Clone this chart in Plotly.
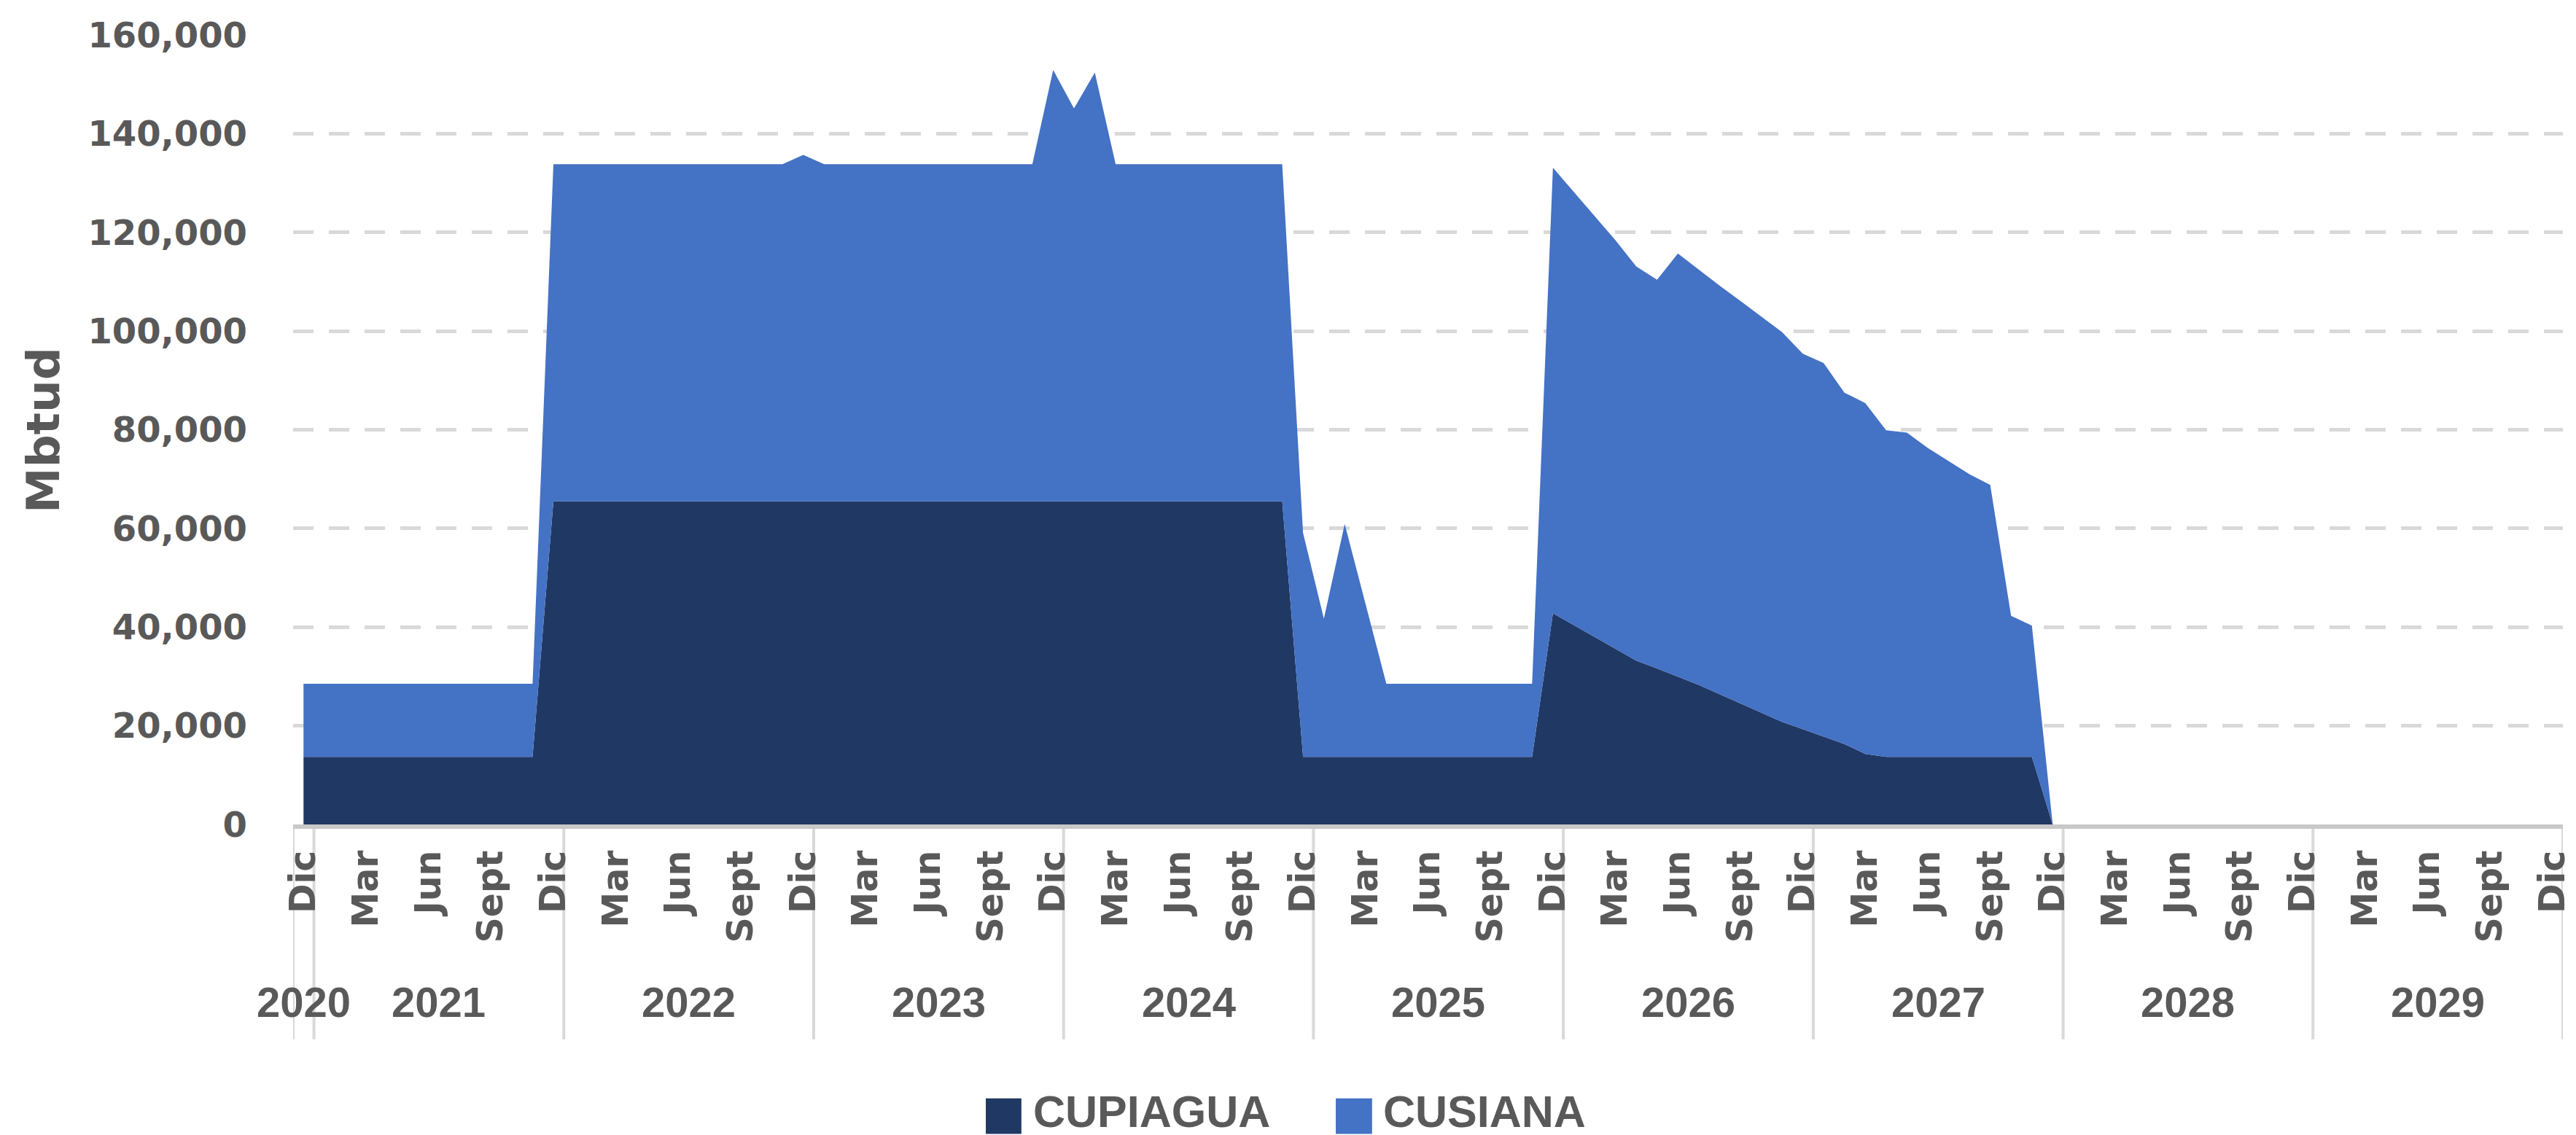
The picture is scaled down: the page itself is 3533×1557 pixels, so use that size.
import plotly.graph_objects as go

# ---------------- data ----------------
month_abbr = ["Ene", "Feb", "Mar", "Abr", "May", "Jun", "Jul", "Ago", "Sept", "Oct", "Nov", "Dic"]
years = [2020, 2021, 2022, 2023, 2024, 2025, 2026, 2027, 2028, 2029]

# category list: Dic 2020 .. Dic 2029 (monthly)
categories = [("Dic", 2020)] + [(m, y) for y in years[1:] for m in month_abbr]

# values (Mbtud), Dic 2020 .. Dic 2027
cupiagua = (
    [13700] * 12                      # Dic 2020 - Nov 2021
    + [65500] * 36                    # Dic 2021 - Nov 2024
    + [13700] * 12                    # Dic 2024 - Nov 2025
    + [42800, 40400, 38000, 35600, 33200, 31600, 30000, 28300, 26400, 24500,
       22600, 20800, 19300, 17800, 16300, 14300]        # Dic 2025 - Mar 2027
    + [13700] * 8                     # Abr 2027 - Nov 2027
    + [0]                             # Dic 2027
)
cusiana = (
    [14800] * 12
    + [68300] * 12 + [70200] + [68300] * 11
    + [87400, 79600, 86900] + [68300] * 9
    + [45400, 28000, 47200, 31000] + [14800] * 8
    + [90300, 87800, 85300, 82800, 79900, 78800, 85700, 84100, 82800, 81600,
       80300, 79000, 76100, 75700, 71200, 71100]
    + [66200, 65700, 62600, 59900, 57300, 55100, 28600, 26600]
    + [0]
)

tick_months = ["Dic", "Mar", "Jun", "Sept"]
y_ticks = [0, 20000, 40000, 60000, 80000, 100000, 120000, 140000, 160000]

# ---------------- figure ----------------
W, H = 3533, 1557
ML, MR, MT, MB = 394, 13, 39, 434
PW, PH = W - ML - MR, H - MT - MB

def px_to_paper_x(px):
    return (px - ML) / PW

def px_to_paper_y(py):
    return (H - MB - py) / PH

x_idx = list(range(len(categories)))
x_data = x_idx[:len(cupiagua)]

TEXT = "#595959"
DARK = "#203864"
LIGHT = "#4472C4"

fig = go.Figure()
fig.add_trace(go.Scatter(
    x=x_data, y=cupiagua, name="CUPIAGUA", mode="lines",
    stackgroup="one", line=dict(width=0, color=DARK), fillcolor=DARK,
    showlegend=False,
))
fig.add_trace(go.Scatter(
    x=x_data, y=cusiana, name="CUSIANA", mode="lines",
    stackgroup="one", line=dict(width=0, color=LIGHT), fillcolor=LIGHT,
    showlegend=False,
))

tickvals = [i for i, (m, y) in enumerate(categories) if m in tick_months]
ticktext = [categories[i][0] for i in tickvals]

fig.update_layout(
    width=W, height=H,
    margin=dict(l=ML, r=MR, t=MT, b=MB),
    paper_bgcolor="white", plot_bgcolor="white",
    showlegend=False,
)
fig.update_xaxes(
    range=[-0.5, len(categories) - 0.5],
    tickvals=tickvals, ticktext=ticktext, tickangle=-90,
    tickfont=dict(family="DejaVu Sans", size=49, color=TEXT, weight="bold"),
    ticks="", showgrid=False, zeroline=False,
    showline=True, linecolor="#C8C8C8", linewidth=6,
    ticklabelstandoff=10, ticklabeloverflow="allow",
)
fig.update_yaxes(
    range=[0, 160000], tickvals=y_ticks, tickformat=",",
    tickfont=dict(family="DejaVu Sans", size=48, color=TEXT, weight="bold"),
    ticks="", showgrid=True, gridcolor="#D9D9D9", gridwidth=5,
    griddash="28px,21px", zeroline=False, showline=False,
    ticklabelstandoff=62,
)

# group dividers & year labels
shapes = []
annotations = []
div_bottom = px_to_paper_y(1418)
boundaries = [-0.5, 0.5] + [0.5 + 12 * k for k in range(1, 10)]
for b in boundaries:
    shapes.append(dict(type="line", xref="x", yref="paper", x0=b, x1=b,
                       y0=0, y1=div_bottom, line=dict(color="#D9D9D9", width=4),
                       layer="below"))
for yr in years:
    idx = [i for i, (m, y) in enumerate(categories) if y == yr]
    xc = (idx[0] + idx[-1]) / 2
    annotations.append(dict(x=xc, y=px_to_paper_y(1367), xref="x", yref="paper",
                            text=str(yr), showarrow=False, xanchor="center", yanchor="middle",
                            font=dict(family="Liberation Sans", size=58, color=TEXT, weight="bold")))

# y axis title
annotations.append(dict(x=px_to_paper_x(50), y=0.5, xref="paper", yref="paper",
                        text="Mbtud", showarrow=False, textangle=-90,
                        xanchor="center", yanchor="middle",
                        font=dict(family="DejaVu Sans", size=63, color=TEXT, weight="bold")))

# manual legend
legend_items = [("CUPIAGUA", DARK, 1348, 1397, 1411), ("CUSIANA", LIGHT, 1830, 1880, 1893)]
for name, col, bx0, bx1, tx in legend_items:
    shapes.append(dict(type="rect", xref="paper", yref="paper",
                       x0=px_to_paper_x(bx0), x1=px_to_paper_x(bx1),
                       y0=px_to_paper_y(1548), y1=px_to_paper_y(1499),
                       fillcolor=col, line=dict(width=0)))
    annotations.append(dict(x=px_to_paper_x(tx), y=px_to_paper_y(1517), xref="paper", yref="paper",
                            text=name, showarrow=False, xanchor="left", yanchor="middle",
                            font=dict(family="Liberation Sans", size=61, color=TEXT, weight="bold")))

fig.update_layout(shapes=shapes, annotations=annotations)

fig.write_html("out.html")
